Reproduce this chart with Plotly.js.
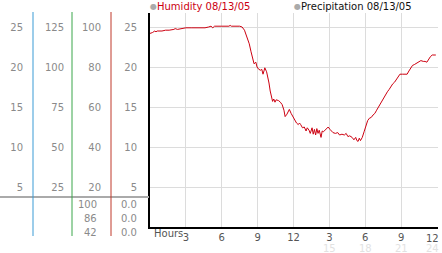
<!DOCTYPE html>
<html><head><meta charset="utf-8">
<script src="https://cdn.plot.ly/plotly-3.0.1.min.js"></script>
<style>html,body{margin:0;padding:0;background:#fff;}#c{width:442px;height:253px;}</style>
</head><body><div id="c"></div>
<script>
// ---- data ----
const hours = [0.0,0.2,0.4,0.5,0.6,0.8,1.0,1.3,1.6,2.0,2.1,2.3,2.8,3.0,3.5,4.0,4.6,4.9,5.1,5.25,5.4,6.0,6.6,6.7,6.8,7.5,7.7,7.9,8.1,8.3,8.45,8.6,8.7,8.85,8.95,9.1,9.25,9.35,9.45,9.55,9.6,9.75,9.85,9.95,10.05,10.15,10.25,10.35,10.45,10.55,10.75,10.9,11.05,11.2,11.3,11.45,11.65,11.8,11.95,12.1,12.25,12.4,12.5,12.6,12.75,12.9,13.05,13.15,13.3,13.4,13.55,13.65,13.75,13.85,13.95,14.05,14.15,14.3,14.4,14.5,14.65,14.8,14.9,15.05,15.15,15.3,15.5,15.7,15.85,16.05,16.25,16.4,16.55,16.7,16.9,17.05,17.2,17.3,17.4,17.5,17.6,17.75,17.9,18.05,18.2,18.35,18.5,18.65,18.8,18.95,19.1,19.25,19.4,19.55,19.7,19.85,20.0,20.15,20.3,20.45,20.6,20.75,20.9,21.1,21.3,21.5,21.65,21.8,21.95,22.1,22.3,22.45,22.65,22.85,23.0,23.15,23.3,23.45,23.6,23.9];
const humidity = [24.2,24.3,24.5,24.4,24.5,24.5,24.5,24.6,24.6,24.7,24.8,24.7,24.8,24.9,24.9,24.9,24.9,25.0,25.1,24.9,25.1,25.1,25.1,25.2,25.1,25.1,25.0,24.6,23.8,22.9,21.9,21.0,20.4,20.6,20.0,19.7,19.6,19.7,19.1,19.6,19.9,19.4,18.8,18.0,17.0,16.3,15.7,16.0,15.6,15.9,15.8,15.6,15.3,14.6,13.8,14.1,14.7,14.2,13.8,13.3,13.0,12.8,13.0,12.8,12.4,12.5,12.0,12.4,12.1,11.7,12.4,11.6,12.2,11.5,12.3,11.7,12.1,11.2,12.0,11.9,12.1,12.3,12.5,12.2,12.0,11.8,11.7,11.8,11.5,11.6,11.5,11.7,11.3,11.4,11.2,10.9,11.2,10.8,10.7,11.1,10.8,11.2,11.9,12.7,13.3,13.6,13.7,14.0,14.2,14.6,15.0,15.4,15.8,16.1,16.5,16.9,17.2,17.6,17.9,18.1,18.4,18.8,19.1,19.1,19.1,19.1,19.5,19.9,20.2,20.3,20.5,20.6,20.8,20.7,20.7,20.6,21.0,21.3,21.5,21.5];
const yTicks = [5,10,15,20,25];
const colBTicks = [25,50,75,100,125];
const colCTicks = [20,40,60,80,100];
const xTicks = [3,6,9,12,15,18,21,24];
const xTickText = ['3','6','9','12','3','6','9','12'];
const xFaintTicks = [15,18,21,24];
const xFaintText = ['15','18','21','24'];
const rowValsA = ['100','86','42'];
const rowValsB = ['0.0','0.0','0.0'];
const legendNames = ['Humidity 08/13/05','Precipitation 08/13/05'];

// ---- layout helpers (pixel -> paper) ----
const W = 442, H = 253;
const px = x => x / W, py = y => 1 - y / H;
const F = 'DejaVu Sans';
const gray = '#8a8a8a';
const last = xTicks.length - 1;

const traces = [
  {x: hours, y: humidity, type: 'scatter', mode: 'lines', line: {color: '#cc0011', width: 1}, hoverinfo: 'skip', showlegend: false},
  // tick marks "※" along axes
  {x: yTicks.map(() => -0.33), y: yTicks, type: 'scatter', mode: 'markers', cliponaxis: false, marker: {symbol: 'x', size: 4, color: '#999'}, showlegend: false, hoverinfo: 'skip'},
  {x: xTicks, y: xTicks.map(() => -0.4), type: 'scatter', mode: 'markers', cliponaxis: false, marker: {symbol: 'x', size: 4, color: '#999'}, showlegend: false, hoverinfo: 'skip'},
  {x: [null], y: [null], yaxis: 'y2', showlegend: false, hoverinfo: 'skip'},
  {x: [null], y: [null], yaxis: 'y3', showlegend: false, hoverinfo: 'skip'},
  {x: [null], y: [null], yaxis: 'y4', showlegend: false, hoverinfo: 'skip'}
];

const yTop = 26.75;
const ydom = [py(227), py(13)];
const sideAxis = (pos, range, vals) => ({
  overlaying: 'y', anchor: 'free', position: pos, side: 'left', range: range,
  tickvals: vals, ticks: '', showgrid: false, showline: false, zeroline: false,
  tickfont: {family: F, size: 10, color: gray}, fixedrange: true
});

const annotations = [];
rowValsA.forEach((t, i) => annotations.push({xref: 'paper', yref: 'paper', x: px(99), y: py(204 + 14 * i), text: t, showarrow: false, xanchor: 'right', yanchor: 'middle', font: {family: F, size: 10, color: gray}}));
rowValsB.forEach((t, i) => annotations.push({xref: 'paper', yref: 'paper', x: px(139), y: py(204 + 14 * i), text: t, showarrow: false, xanchor: 'right', yanchor: 'middle', font: {family: F, size: 10, color: gray}}));
xFaintTicks.forEach((v, i) => annotations.push({xref: 'x', yref: 'paper', x: v, y: py(248), text: xFaintText[i], showarrow: false, xanchor: i === 3 ? 'right' : 'center', yanchor: 'middle', xshift: i === 3 ? 4 : 0, font: {family: F, size: 10, color: '#e2e2e2'}}));
// last x tick label, kept inside the picture
annotations.push({xref: 'x', yref: 'paper', x: xTicks[last], y: py(238.5), text: xTickText[last], showarrow: false, xanchor: 'right', yanchor: 'middle', xshift: 4, font: {family: F, size: 10, color: '#555'}});
annotations.push({xref: 'paper', yref: 'paper', x: px(152), y: py(233), text: 'Hours', showarrow: false, xanchor: 'left', yanchor: 'middle', font: {family: F, size: 10, color: '#555'}});
// legend
[[153, '#cc0011'], [297, '#111']].forEach((d, i) => {
  annotations.push({xref: 'paper', yref: 'paper', x: px(d[0]), y: py(7), text: '●', showarrow: false, xanchor: 'center', yanchor: 'middle', font: {family: F, size: 8, color: '#aaa'}});
  annotations.push({xref: 'paper', yref: 'paper', x: px(d[0] + 2), y: py(7), text: legendNames[i], showarrow: false, xanchor: 'left', yanchor: 'middle', font: {family: F, size: 10, color: d[1]}});
});

const shapes = [
  {type: 'line', xref: 'paper', yref: 'paper', x0: 0, x1: px(149), y0: py(197), y1: py(197), line: {color: '#aaa', width: 2}},
  {type: 'line', xref: 'paper', yref: 'paper', x0: px(33), x1: px(33), y0: py(236), y1: py(12), line: {color: '#3a9bd5', width: 1}},
  {type: 'line', xref: 'paper', yref: 'paper', x0: px(72), x1: px(72), y0: py(236), y1: py(12), line: {color: '#3aa64a', width: 1}},
  {type: 'line', xref: 'paper', yref: 'paper', x0: px(111), x1: px(111), y0: py(236), y1: py(12), line: {color: '#c0392b', width: 1}}
];

const layout = {
  width: W, height: H, margin: {l: 0, r: 0, t: 0, b: 0},
  paper_bgcolor: '#fff', plot_bgcolor: '#fff', showlegend: false,
  font: {family: F, size: 10, color: gray},
  xaxis: {domain: [px(150), px(437.5)], range: [0, 24.04], tickvals: xTicks,
    ticktext: xTickText.map((t, i) => i === last ? '' : t), ticks: '',
    showgrid: true, gridcolor: '#dcdcdc', gridwidth: 1, zeroline: false, showline: true, linecolor: '#000', linewidth: 2,
    tickfont: {family: F, size: 10, color: '#555'}, ticklabelstandoff: 0, fixedrange: true},
  yaxis: {domain: ydom, range: [0, yTop], tickvals: yTicks, ticks: '', showgrid: true, gridcolor: '#dcdcdc',
    zeroline: false, showline: true, linecolor: '#000', linewidth: 2, ticklabelstandoff: 9,
    tickfont: {family: F, size: 10, color: gray}, fixedrange: true},
  yaxis2: sideAxis(px(23), [0, yTop], yTicks),
  yaxis3: sideAxis(px(64), [0, yTop * 5], colBTicks),
  yaxis4: sideAxis(px(101), [0, yTop * 4], colCTicks),
  shapes: shapes, annotations: annotations
};

Plotly.newPlot('c', traces, layout, {staticPlot: true, displayModeBar: false});
</script></body></html>
